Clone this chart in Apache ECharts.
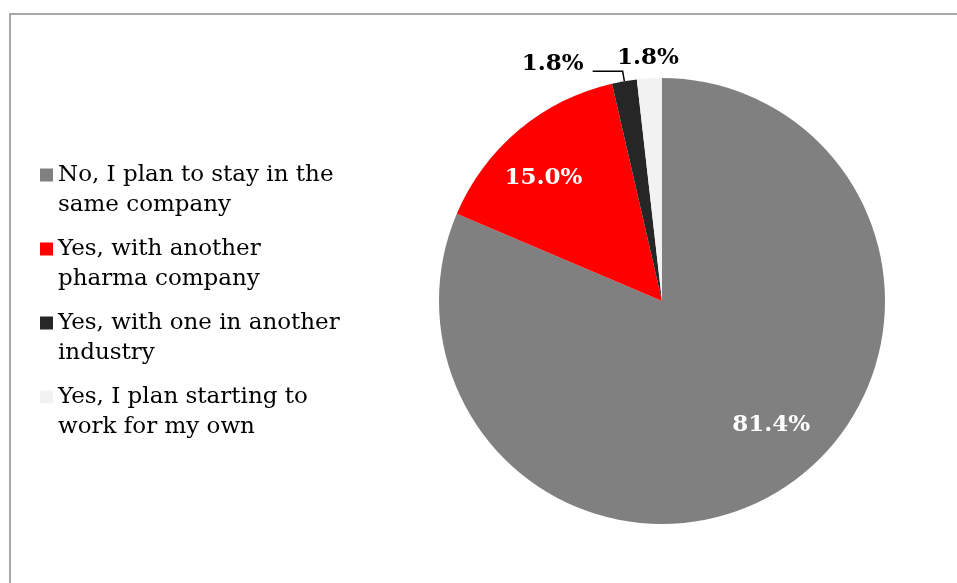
<!DOCTYPE html>
<html>
<head>
<meta charset="utf-8">
<script src="https://cdn.jsdelivr.net/npm/echarts@6/dist/echarts.min.js"></script>
<style>
  html, body { margin: 0; padding: 0; background: #ffffff; }
  #chart { width: 957px; height: 583px; }
</style>
</head>
<body>
<div id="chart"></div>
<script>
// Answers to "Do you plan to change employer?"
const categories = [
  'No, I plan to stay in the\nsame company',
  'Yes, with another\npharma company',
  'Yes, with one in another\nindustry',
  'Yes, I plan starting to\nwork for my own'
];
const shares = [81.4, 15.0, 1.8, 1.8];
const colors = ['#808080', '#ff0000', '#262626', '#f2f2f2'];

const FONT = '"DejaVu Serif", "Liberation Serif", serif';

// per-slice label placement
const labelStyles = [
  { position: 'inside', color: '#ffffff', offset: [46, 29], line: null },
  { position: 'inside', color: '#ffffff', offset: [-45, -35], line: null },
  { position: 'outside', color: '#000000', offset: [0, -7], line: '#000000' },
  { position: 'outside', color: '#000000', offset: [69, -10], line: 'rgba(0,0,0,0)' }
];

const data = categories.map((name, i) => {
  const s = labelStyles[i];
  return {
    name: name,
    value: shares[i],
    itemStyle: { color: colors[i] },
    label: { position: s.position, color: s.color, offset: s.offset },
    labelLine: s.line
      ? { show: true, lineStyle: { color: s.line, width: 1.5 } }
      : { show: false }
  };
});

const chart = echarts.init(document.getElementById('chart'), null, { renderer: 'canvas' });
chart.setOption({
  animation: false,
  backgroundColor: '#ffffff',
  graphic: [{
    type: 'rect',
    shape: { x: 10, y: 14, width: 1000, height: 700 },
    style: { fill: 'none', stroke: '#8c8c8c', lineWidth: 1.5 },
    silent: true
  }],
  legend: {
    orient: 'vertical',
    left: 35,
    top: 125,
    itemWidth: 13,
    itemHeight: 13,
    itemGap: -16,
    icon: 'rect',
    formatter: name => '\n' + name,
    textStyle: { fontFamily: FONT, fontSize: 23, lineHeight: 30, color: '#000000' },
    data: categories
  },
  series: [{
    type: 'pie',
    center: [662, 301],
    radius: 223,
    startAngle: 90,
    clockwise: true,
    avoidLabelOverlap: false,
    data: data,
    label: {
      formatter: p => p.value.toFixed(1) + '%',
      fontFamily: FONT,
      fontWeight: 'bold',
      fontSize: 23,
      distanceToLabelLine: 9
    },
    labelLine: {
      length: 10,
      length2: 30
    },
    emphasis: { disabled: true }
  }]
});
</script>
</body>
</html>
